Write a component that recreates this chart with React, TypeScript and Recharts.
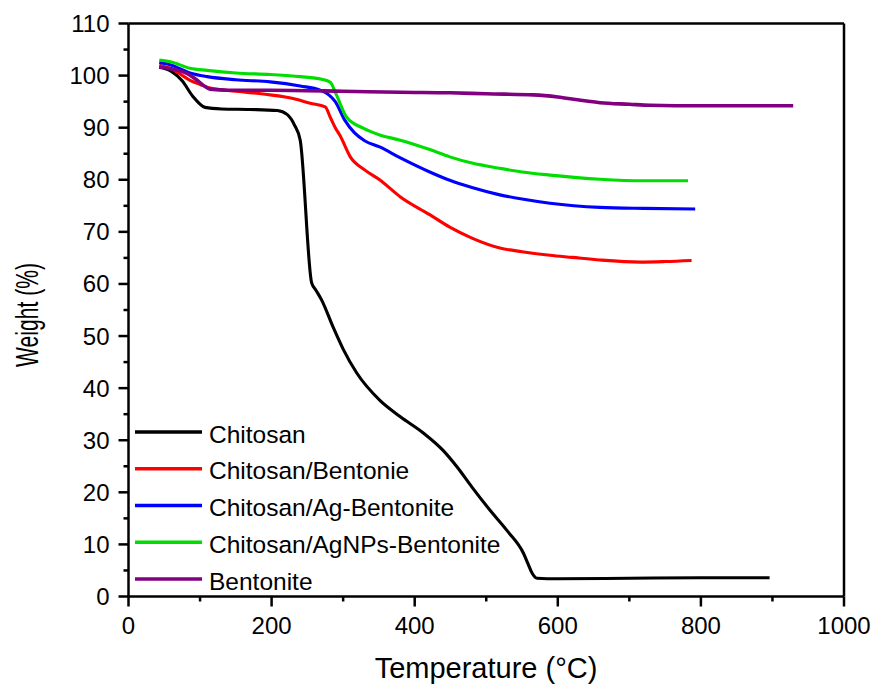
import { LineChart, Line, XAxis, YAxis, ReferenceLine, Legend } from "recharts"

const FONT = '"Liberation Sans", Arial, sans-serif'

// temperature (°C) / weight (%) pairs
const chitosanT = [43, 60, 75, 90, 107, 130, 170, 208, 222, 232, 240, 256, 262, 270, 286, 300, 319, 351, 380, 412, 440, 459, 480, 505, 530, 552, 558, 564, 571, 600, 700, 800, 896]
const chitosanW = [101.6, 100.8, 99, 96, 93.9, 93.6, 93.5, 93.3, 92.5, 90.5, 87.6, 60.2, 58.8, 56.9, 51.7, 47.5, 42.9, 37.7, 34.5, 31.4, 28, 24.9, 21, 16.6, 12.5, 8.3, 6.4, 4.5, 3.5, 3.4, 3.5, 3.6, 3.6]

const bentonieT = [43, 60, 86, 100, 114, 150, 198, 230, 254, 275, 282, 289, 296, 310, 330, 351, 380, 421, 449, 480, 519, 550, 589, 620, 659, 715, 750, 787]
const bentonieW = [102, 101.3, 99.1, 98.3, 97.6, 97, 96.3, 95.6, 94.7, 94, 92, 90, 88.4, 84.4, 81.9, 80, 76.7, 73.3, 70.9, 68.8, 66.9, 66.2, 65.5, 65.1, 64.6, 64.2, 64.3, 64.5]

const agBentT = [43, 60, 86, 110, 150, 198, 240, 268, 280, 289, 302, 316, 330, 351, 380, 421, 449, 480, 519, 550, 589, 659, 720, 792]
const agBentW = [102.5, 102, 100.5, 99.8, 99.2, 98.8, 98, 97.2, 96.3, 95, 91.5, 89, 87.5, 86.3, 84.2, 81.5, 79.9, 78.5, 77.1, 76.3, 75.5, 74.7, 74.5, 74.4]

const agNPsT = [43, 60, 86, 110, 150, 198, 240, 270, 282, 290, 305, 328, 351, 380, 421, 449, 480, 519, 550, 589, 659, 720, 782]
const agNPsW = [103, 102.6, 101.4, 101, 100.5, 100.2, 99.8, 99.3, 98.7, 96.5, 92, 89.9, 88.6, 87.6, 85.8, 84.4, 83.2, 82.2, 81.5, 80.9, 80.1, 79.8, 79.8]

const bentoniteT = [43, 60, 80, 95, 107, 114, 140, 198, 300, 380, 450, 500, 566, 600, 630, 659, 700, 729, 800, 929]
const bentoniteW = [101.6, 101.3, 100.5, 99.2, 97.9, 97.4, 97.2, 97.2, 97, 96.8, 96.7, 96.5, 96.3, 95.9, 95.3, 94.8, 94.5, 94.3, 94.2, 94.2]

const X_TICKS = [0, 100, 200, 300, 400, 500, 600, 700, 800, 900, 1000]
const Y_TICKS = [0, 5, 10, 15, 20, 25, 30, 35, 40, 45, 50, 55, 60, 65, 70, 75, 80, 85, 90, 95, 100, 105, 110]

const toPoints = (t: number[], w: number[]) => t.map((v, i) => ({ t: v, w: w[i] }))

const SERIES = [
  { name: "Chitosan", color: "#000000", data: toPoints(chitosanT, chitosanW) },
  { name: "Chitosan/Bentonie", color: "#ff0000", data: toPoints(bentonieT, bentonieW) },
  { name: "Chitosan/Ag-Bentonite", color: "#0000ff", data: toPoints(agBentT, agBentW) },
  { name: "Chitosan/AgNPs-Bentonite", color: "#00dd00", data: toPoints(agNPsT, agNPsW) },
  { name: "Bentonite", color: "#800080", data: toPoints(bentoniteT, bentoniteW) },
]

const XTick = ({ x, y, payload }: any) => {
  const major = payload.value % 200 === 0
  return (
    <g>
      <line x1={x} x2={x} y1={y} y2={y + (major ? 10 : 5)} stroke="#000" strokeWidth={2.5} />
      {major && (
        <text x={x} y={y + 37.5} textAnchor="middle" fontSize={24} fontFamily={FONT} fill="#000">
          {payload.value}
        </text>
      )}
    </g>
  )
}

const YTick = ({ x, y, payload }: any) => {
  const major = payload.value % 10 === 0
  return (
    <g>
      <line x1={x} x2={x - (major ? 10 : 5)} y1={y} y2={y} stroke="#000" strokeWidth={2.5} />
      {major && (
        <text x={x - 19} y={y + 8.5} textAnchor="end" fontSize={24} fontFamily={FONT} fill="#000">
          {payload.value}
        </text>
      )}
    </g>
  )
}

const YTitle = () => (
  <text
    transform="translate(38,315) rotate(-90) scale(0.68,1)"
    textAnchor="middle"
    fontSize={31}
    fontFamily={FONT}
    fill="#000"
  >
    Weight (%)
  </text>
)

const XTitle = () => (
  <text x={486} y={678} textAnchor="middle" fontSize={29} fontFamily={FONT} fill="#000">
    Temperature (°C)
  </text>
)

const LegendBox = () => (
  <svg width={420} height={190}>
    {SERIES.map((s, i) => {
      const cy = 22 + i * 36.75
      return (
        <g key={s.name}>
          <line x1={5} x2={72} y1={cy} y2={cy} stroke={s.color} strokeWidth={3.5} />
          <text x={79} y={cy + 10.5} fontSize={24.5} fontFamily={FONT} fill="#000">
            {s.name}
          </text>
        </g>
      )
    })}
  </svg>
)

export default function App() {
  return (
    <div>
      <style>{"body{margin:0}"}</style>
      <LineChart
        width={875}
        height={685}
        margin={{ top: 23.5, right: 31, bottom: 0, left: 0 }}
        style={{ fontFamily: FONT, background: "#fff" }}
      >
        <XAxis
          dataKey="t"
          type="number"
          domain={[0, 1000]}
          ticks={X_TICKS}
          interval={0}
          height={88.5}
          tickSize={0}
          tickMargin={0}
          tick={<XTick />}
          stroke="#000"
          strokeWidth={2.5}
          allowDataOverflow
          label={{ content: <XTitle /> }}
        />
        <YAxis
          dataKey="w"
          type="number"
          domain={[0, 110]}
          ticks={Y_TICKS}
          interval={0}
          width={128.5}
          tickSize={0}
          tickMargin={0}
          tick={<YTick />}
          stroke="#000"
          strokeWidth={2.5}
          allowDataOverflow
          label={{ content: <YTitle /> }}
        />
        <ReferenceLine y={110} stroke="#000" strokeWidth={2.5} />
        <ReferenceLine x={1000} stroke="#000" strokeWidth={2.5} />
        {SERIES.map((s) => (
          <Line
            key={s.name}
            data={s.data}
            dataKey="w"
            name={s.name}
            type="monotone"
            stroke={s.color}
            strokeWidth={s.name === "Bentonite" ? 3.6 : 3.1}
            dot={false}
            isAnimationActive={false}
          />
        ))}
        <Legend
          layout="vertical"
          align="center"
          verticalAlign="middle"
          content={<LegendBox />}
          wrapperStyle={{ left: 130, top: 410, width: 420, height: 190 }}
        />
      </LineChart>
    </div>
  )
}
